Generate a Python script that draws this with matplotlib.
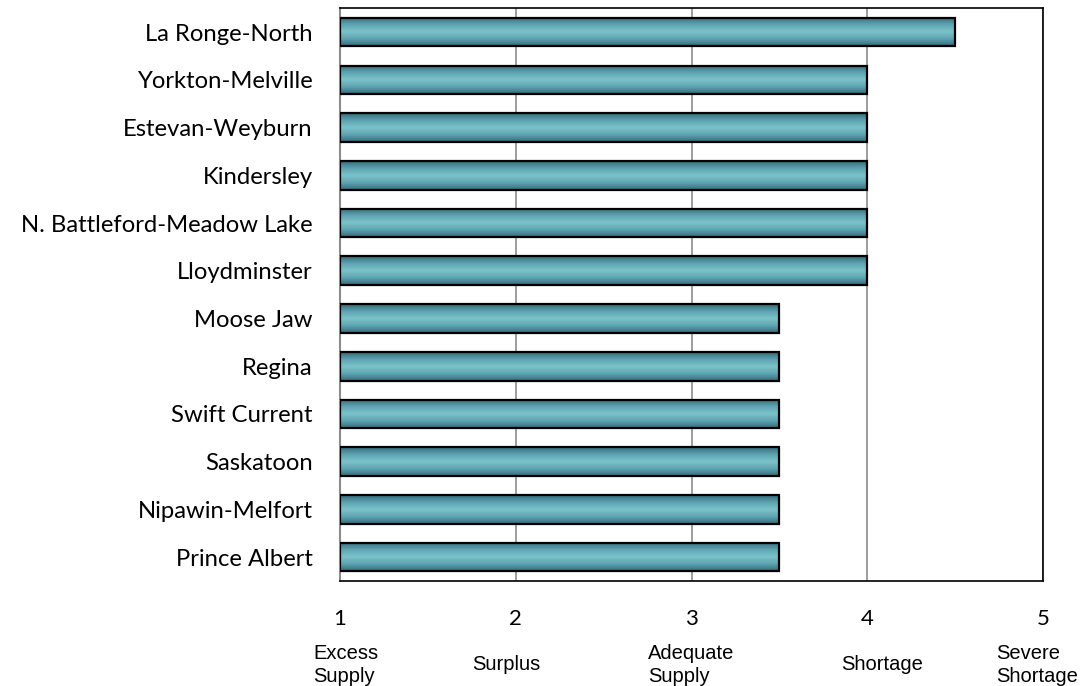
import numpy as np
import matplotlib
matplotlib.use("Agg")
import matplotlib.pyplot as plt
from matplotlib.colors import LinearSegmentedColormap
from matplotlib import transforms

# data (top to bottom as in the picture)
regions = ["La Ronge-North", "Yorkton-Melville", "Estevan-Weyburn", "Kindersley",
           "N. Battleford-Meadow Lake", "Lloydminster", "Moose Jaw", "Regina",
           "Swift Current", "Saskatoon", "Nipawin-Melfort", "Prince Albert"]
scores = [4.5, 4.0, 4.0, 4.0, 4.0, 4.0, 3.5, 3.5, 3.5, 3.5, 3.5, 3.5]
ticks = [1, 2, 3, 4, 5]
tick_desc = ["Excess\nSupply", "Surplus", "Adequate\nSupply", "Shortage", "Severe\nShortage"]

fig = plt.figure(figsize=(10.8, 6.86), dpi=100)
ax = fig.add_axes([0.3148, 0.153, 0.651, 0.835])

y = np.arange(len(regions))[::-1]
bars = ax.barh(y, [s - 1 for s in scores], left=1, height=0.6,
               color="none", edgecolor="black", linewidth=1.6, zorder=3)

# vertical gradient inside each bar
cmap = LinearSegmentedColormap.from_list(
    "teal", ["#336a7c", "#5ea3b1", "#7cc3cb", "#5ea3b1", "#336a7c"])
grad = np.linspace(0, 1, 256).reshape(-1, 1)
for b in bars:
    x0, y0 = b.get_x(), b.get_y()
    w, h = b.get_width(), b.get_height()
    im = ax.imshow(grad, cmap=cmap, aspect="auto", extent=[x0, x0 + w, y0, y0 + h],
                   zorder=2, interpolation="bicubic")
    im.set_clip_path(b)

ax.set_xlim(1, 5)
ax.set_ylim(-0.5, len(regions) - 0.5)
ax.set_xticks(ticks)
ax.set_xticklabels([str(t) for t in ticks], fontsize=16, family="Lato")
ax.set_yticks(y)
ax.set_yticklabels(regions, fontsize=17.2, family="Lato")
ax.tick_params(axis="x", length=0, pad=20)
ax.tick_params(axis="y", length=0, pad=19.5)
ax.grid(axis="x", color="#8c8c8c", linewidth=1.2, zorder=1)
ax.set_axisbelow(True)
for s in ["top", "right", "bottom"]:
    ax.spines[s].set_color("black")
    ax.spines[s].set_linewidth(1.2)
ax.spines["left"].set_color("#8c8c8c")
ax.spines["left"].set_linewidth(1.5)

# descriptive labels under the numbers (left edge in data units, y in figure units)
desc_x = [0.846, 1.751, 2.752, 3.851, 4.733]
tr = transforms.blended_transform_factory(ax.transData, fig.transFigure)
for xv, txt in zip(desc_x, tick_desc):
    ax.text(xv, 1 - 665 / 686, txt, transform=tr, ha="left", va="center",
            multialignment="left", fontsize=14.5, family="Liberation Sans",
            linespacing=1.3, clip_on=False)

fig.savefig("out.png", dpi=100)
